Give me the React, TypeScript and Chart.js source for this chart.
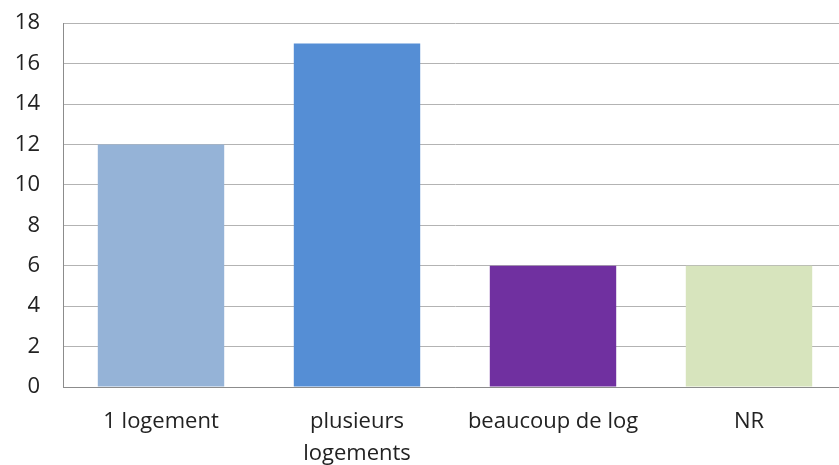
import React, { useEffect, useRef } from "react";
import { Chart, registerables } from "chart.js";

Chart.register(...registerables);

const categories: (string | string[])[] = ["1 logement", ["plusieurs", "logements"], "beaucoup de log", "NR"];
const values = [12, 17, 6, 6];
const barColors = ["#95B3D7", "#558ED5", "#7030A0", "#D7E4BD"];

export default function App() {
  const ref = useRef<HTMLCanvasElement>(null);
  useEffect(() => {
    if (!ref.current) return;
    const chart = new Chart(ref.current, {
      type: "bar",
      data: {
        labels: categories as any,
        datasets: [
          {
            data: values,
            backgroundColor: barColors,
            borderWidth: 0,
            categoryPercentage: 1,
            barPercentage: 0.645,
          },
        ],
      },
      options: {
        animation: false,
        responsive: false,
        maintainAspectRatio: false,
        layout: { padding: { top: 0, right: 0, left: 0, bottom: 0 } },
        plugins: { legend: { display: false }, tooltip: { enabled: false } },
        scales: {
          x: {
            grid: { display: false, drawTicks: false },
            border: { display: true, color: "#8c8c8c", width: 1 },
            ticks: {
              color: "#222",
              font: { family: "'Open Sans', sans-serif", size: 22, lineHeight: 1.45 },
              padding: 19,
              maxRotation: 0,
              autoSkip: false,
            },
            afterFit: (s: any) => {
              s.height = 78;
            },
          },
          y: {
            min: 0,
            max: 18,
            ticks: {
              stepSize: 2,
              color: "#222",
              font: { family: "'Open Sans', sans-serif", size: 22 },
              padding: 23,
            },
            grid: { color: "#b3b3b3", lineWidth: 1, drawTicks: false },
            border: { display: true, color: "#8c8c8c", width: 1 },
            afterFit: (s: any) => {
              s.width = 63;
            },
          },
        },
      },
    });
    return () => chart.destroy();
  }, []);
  return (
    <div style={{ position: "fixed", left: 0, top: 0, width: 839, height: 465, background: "#fff", overflow: "hidden" }}>
      <canvas
        ref={ref}
        width={847}
        height={478}
        style={{ position: "absolute", left: 0, top: -13, width: 847, height: 478 }}
      />
    </div>
  );
}
